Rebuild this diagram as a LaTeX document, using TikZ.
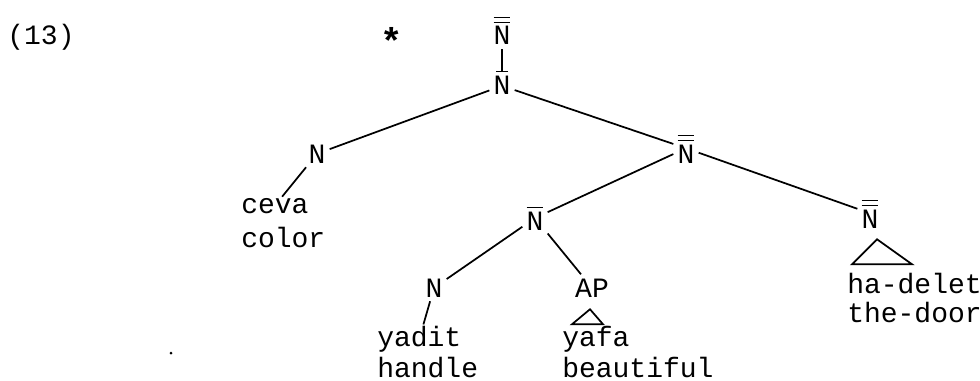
\documentclass[tikz,border=0pt]{standalone}
\usepackage{fontspec}
\setmainfont{Liberation Mono}
\usepackage{amsmath}
\usepackage{tikz}
\usetikzlibrary{arrows.meta}

\newcommand{\barN}{$\overline{\mbox{N}}$}
\newcommand{\dbarN}{$\overline{\overline{\mbox{N}}}$}

\begin{document}
\begin{tikzpicture}[x=0.75pt,y=0.75pt,yscale=-1,xscale=1,
  every node/.style={font=\fontsize{21}{25}\selectfont},
  cat/.style={anchor=base,inner sep=3pt},
  word/.style={anchor=base west,inner sep=0.75pt},
  branch/.style={line width=1.3pt}]
\useasboundingbox (0,0) rectangle (980,381);

% Text Node
\draw (41,45) node [anchor=base] (exnum) {(13)};
% Text Node
\draw (392,55) node [anchor=base,font=\fontsize{28}{30}\selectfont\bfseries] (star) {*};

%Category nodes
\draw (502,45) node [cat] (top) {\dbarN};
\draw (502,95) node [cat] (root) {N};
\draw (317,163) node [cat] (nL) {N};
\draw (686,163) node [cat] (nR) {\dbarN};
\draw (535,230) node [cat] (nBar) {\barN};
\draw (870,228) node [cat] (nDoor) {\dbarN};
\draw (434,297) node [cat] (nY) {N};
\draw (592,297) node [cat] (ap) {AP};

%Words and glosses
\draw (240,213) node [word] (ceva) {ceva};
\draw (240,247) node [word] (color) {color};
\draw (376,346) node [word] (yadit) {yadit};
\draw (376,377) node [word] (handle) {handle};
\draw (561,346) node [word] (yafa) {yafa};
\draw (561,377) node [word] (beautiful) {beautiful};
\draw (846,293) node [word] (hadelet) {ha-delet};
\draw (846,322) node [word] (thedoor) {the-door};

%Branches
\draw [branch,-{Bar[width=9pt]}] (top) -- (root);
\draw [branch] (root) -- (nL);
\draw [branch] (root) -- (nR);
\draw [branch] (nL) -- (ceva);
\draw [branch] (nR) -- (nBar);
\draw [branch] (nR) -- (nDoor);
\draw [branch] (nBar) -- (nY);
\draw [branch] (nBar) -- (ap);
\draw [branch] (nY) -- (yadit);

%Triangles
\draw [branch] (ap.south) ++(-2,8) -- ++(-18,15) -- ++(31,0) -- cycle;
\draw [branch] (nDoor.south) ++(7,7) -- ++(-25,25) -- ++(60,0) -- cycle;

%speck
\fill (171,353) circle (1.5);

\end{tikzpicture}
\end{document}
